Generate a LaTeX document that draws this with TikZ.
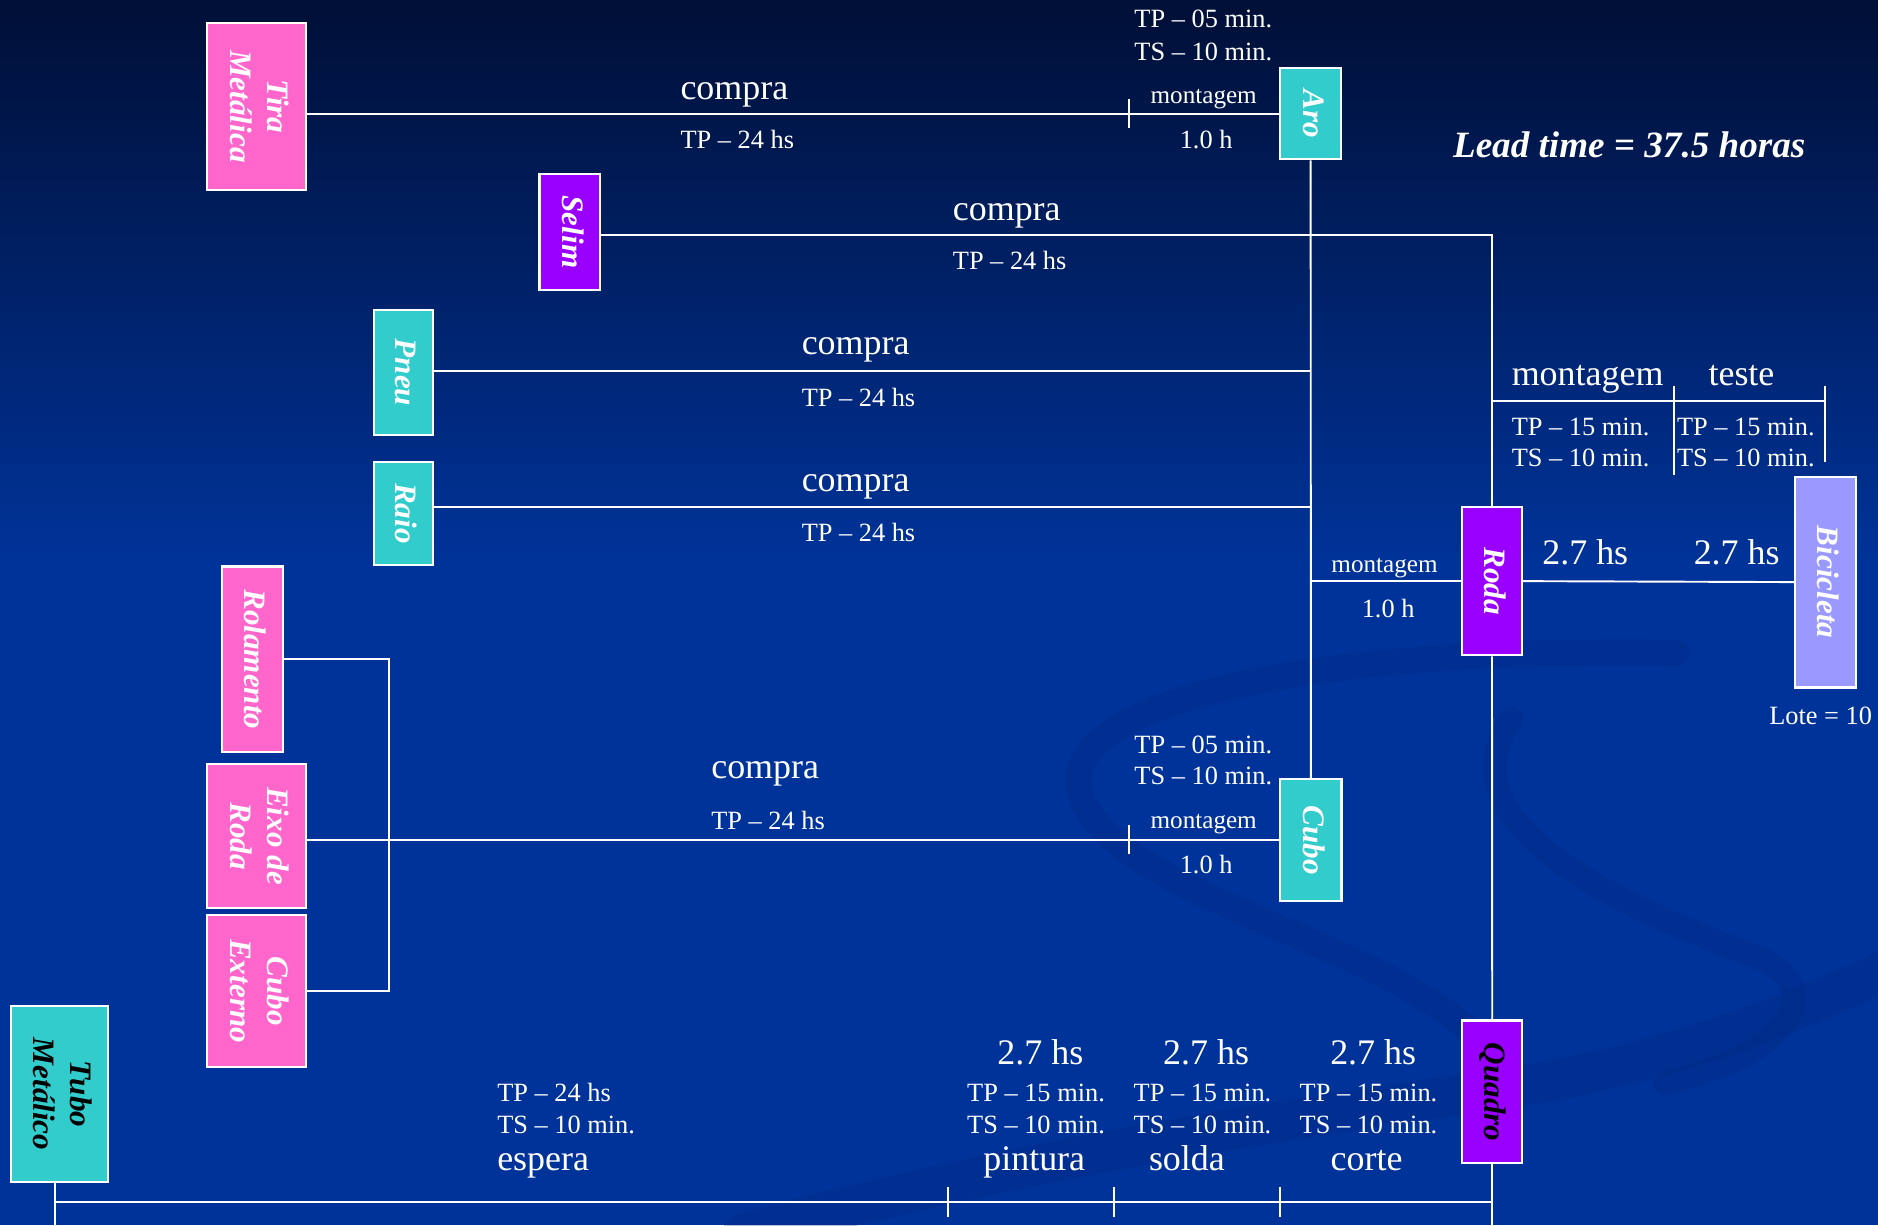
\documentclass[tikz,border=0pt]{standalone}
\usepackage{fontspec}
\setmainfont{Liberation Serif}
\usepackage{graphicx}
\definecolor{bgtop}{HTML}{000F36}
\definecolor{bgmid}{HTML}{00246E}
\definecolor{bgbot}{HTML}{003399}
\definecolor{swirlc}{HTML}{00287F}
\definecolor{pinkbox}{HTML}{FF66CC}
\definecolor{tealbox}{HTML}{33CCCC}
\definecolor{purplebox}{HTML}{9900FF}
\definecolor{lavbox}{HTML}{9999FF}
\newcommand{\vlab}[1]{\rotatebox{-90}{\begin{tabular}{@{}c@{}}#1\end{tabular}}}
\tikzset{
  box/.style={draw=white, line width=1.8pt, inner sep=0pt, text=white,
    font=\fontsize{26}{31}\selectfont\bfseries\itshape},
  conn/.style={draw=white, line width=1.6pt},
  small/.style={text=white, inner sep=0pt, anchor=base west, font=\fontsize{22}{27}\selectfont},
  smallc/.style={small, anchor=base},
  tiny/.style={text=white, inner sep=0pt, anchor=base, font=\fontsize{21}{25}\selectfont},
  big/.style={text=white, inner sep=0pt, anchor=base west, font=\fontsize{30}{36}\selectfont},
  bigc/.style={big, anchor=base},
  swirl/.style={draw=swirlc, line cap=round, opacity=0.28}
}
\begin{document}
\begin{tikzpicture}[x=1pt,y=-1pt]
\useasboundingbox (0,0) rectangle (1568,1023);
% background
\fill[bgbot] (0,0) rectangle (1568,1023);
\shade[top color=bgtop, middle color=bgmid, bottom color=bgbot] (0,0) rectangle (1568,470);
% decorative swirl
\draw[swirl, line width=22pt] (1400,545) .. controls (1100,540) and (880,585) .. (902,662) .. controls (925,745) and (1150,785) .. (1232,865);
\draw[swirl, line width=20pt] (1262,600) .. controls (1200,690) and (1360,760) .. (1470,800) .. controls (1530,830) and (1490,880) .. (1390,905);
\draw[swirl, line width=34pt] (620,1030) .. controls (900,955) and (1150,925) .. (1280,905) .. controls (1400,885) and (1500,845) .. (1575,810);

% boxes
\node[box, fill=pinkbox, minimum width=82.5pt, minimum height=139.6pt] (tira) at (214,88.8) {\vlab{Tira\\Metálica}};
\node[box, fill=tealbox, minimum width=50.7pt, minimum height=76.2pt] (aro) at (1094.3,95) {\vlab{Aro}};
\node[box, fill=purplebox, minimum width=50.6pt, minimum height=96.7pt] (selim) at (475.7,193.7) {\vlab{Selim}};
\node[box, fill=tealbox, minimum width=49.5pt, minimum height=104.4pt] (pneu) at (336.8,311) {\vlab{Pneu}};
\node[box, fill=tealbox, minimum width=49.5pt, minimum height=86.2pt] (raio) at (336.8,428.6) {\vlab{Raio}};
\node[box, fill=pinkbox, minimum width=51pt, minimum height=155pt] (rolamento) at (210.7,550.5) {\vlab{Rolamento}};
\node[box, fill=pinkbox, minimum width=82.6pt, minimum height=120pt] (eixo) at (214,698) {\vlab{Eixo de\\Roda}};
\node[box, fill=pinkbox, minimum width=82.6pt, minimum height=127pt] (cuboext) at (214,827.5) {\vlab{Cubo\\Externo}};
\node[box, fill=tealbox, text=black, minimum width=81.5pt, minimum height=147pt] (tubo) at (49.75,913.5) {\vlab{Tubo\\Metálico}};
\node[box, fill=tealbox, minimum width=51pt, minimum height=101.3pt] (cubo) at (1094.5,701.3) {\vlab{Cubo}};
\node[box, fill=purplebox, minimum width=50.3pt, minimum height=123.7pt] (roda) at (1245.7,485.2) {\vlab{Roda}};
\node[box, fill=purplebox, text=black, minimum width=50.3pt, minimum height=119.3pt] (quadro) at (1245.9,911.7) {\vlab{Quadro}};
\node[box, fill=lavbox, minimum width=50.7pt, minimum height=176pt] (bici) at (1524,486) {\vlab{Bicicleta}};

% helper coordinates
\coordinate (sj) at (1245.7,196.2);
\coordinate (pl) at (0,309.5);
\coordinate (rl) at (0,423);
\coordinate (brk) at (324.7,0);
\coordinate (tb) at (46.3,1023);
\coordinate (bl) at (46.3,1003.8);
\coordinate (qb) at (1245.9,1023);
\coordinate (mt) at (1245.7,334.5);
\coordinate (mtr) at (1524,334.5);

% connectors
\draw[conn] (aro.west -| tira.east) -- (aro.west);
\draw[conn] (selim.east |- sj) -- (sj) -- (roda.north);
\draw[conn] (pneu.east |- pl) -- (aro.south |- pl);
\draw[conn] (raio.east |- rl) -- (aro.south |- rl);
\draw[conn] (aro.south) -- (cubo.north);
\draw[conn] (roda.west -| aro.south) -- (roda.west);
\draw[conn] (roda.east) -- (bici.west);
\draw[conn] (roda.south) -- (quadro.north);
\draw[conn] (quadro.south) -- (qb);
\draw[conn] (cubo.west -| eixo.east) -- (cubo.west);
\draw[conn] (rolamento.east) -- (rolamento.east -| brk) -- (cuboext.east -| brk) -- (cuboext.east);
\draw[conn] (tubo.south -| tb) -- (tb);
\draw[conn] (bl) -- (bl -| quadro.south);
\draw[conn] (mt) -- (mtr);

% ticks
\coordinate (t1) at (943,94.9);
\coordinate (t2) at (943,700.8);
\draw[conn] (t1) ++(0,-12) -- ++(0,24);
\draw[conn] (t2) ++(0,-12) -- ++(0,24);
\coordinate (t3) at (1397.7,322);
\draw[conn] (t3) -- ++(0,75);
\draw[conn] (mtr) ++(0,-12.5) -- ++(0,64);
\foreach \tx [count=\i] in {791.5,930,1069} {
  \coordinate (bt\i) at (\tx,991);
  \draw[conn] (bt\i) -- ++(0,25);
}

% labels: Tira / Aro
\node[big] (c1) at (568,83) {compra};
\node[small] (p1) at (568,124.4) {TP – 24 hs};
\node[small] (a1) at (947,22.8) {TP – 05 min.};
\node[small] (a2) at (947,50.1) {TS – 10 min.};
\node[tiny] (a3) at (1005,86.3) {montagem};
\node[smallc] (a4) at (1007,123.8) {1.0 h};
% Selim
\node[big] (c2) at (795.4,183.7) {compra};
\node[small] (p2) at (795.4,224.9) {TP – 24 hs};
% Pneu
\node[big] (c3) at (669.2,295.6) {compra};
\node[small] (p3) at (669.2,339) {TP – 24 hs};
% Raio
\node[big] (c4) at (669.2,410.5) {compra};
\node[small] (p4) at (669.2,452.3) {TP – 24 hs};
% Eixo / Cubo
\node[big] (c5) at (593.7,649.9) {compra};
\node[small] (p5) at (593.7,692.4) {TP – 24 hs};
\node[small] (b1) at (947,629) {TP – 05 min.};
\node[small] (b2) at (947,655.4) {TS – 10 min.};
\node[tiny] (b3) at (1005,691.6) {montagem};
\node[smallc] (b4) at (1007,729.7) {1.0 h};
% Roda
\node[tiny] (r1) at (1156,478) {montagem};
\node[smallc] (r2) at (1159,515.4) {1.0 h};
\node[bigc] (r3) at (1323.6,471.7) {2.7 hs};
\node[bigc] (r4) at (1450,471.7) {2.7 hs};
\node[big] (m1) at (1262,321.5) {montagem};
\node[bigc] (m2) at (1454,321.5) {teste};
\node[small] (m3) at (1262,364) {TP – 15 min.};
\node[small] (m4) at (1262,389.6) {TS – 10 min.};
\node[small] (m5) at (1400,364) {TP – 15 min.};
\node[small] (m6) at (1400,389.6) {TS – 10 min.};
\node[small] (lote) at (1477,604.5) {Lote = 10};
\node[text=white, inner sep=0pt, anchor=base west, font=\fontsize{31}{37}\selectfont\bfseries\itshape] (lead) at (1213,131.4) {Lead time = 37.5 horas};
% bottom
\node[small] (e1) at (415,919.8) {TP – 24 hs};
\node[small] (e2) at (415,946.2) {TS – 10 min.};
\node[big] (e3) at (415,976.9) {espera};
\node[bigc] (q1) at (868.6,888.4) {2.7 hs};
\node[bigc] (q2) at (1007,888.4) {2.7 hs};
\node[bigc] (q3) at (1146.5,888.4) {2.7 hs};
\node[smallc] (q4) at (865,919.8) {TP – 15 min.};
\node[smallc] (q5) at (1004,919.8) {TP – 15 min.};
\node[smallc] (q6) at (1142.6,919.8) {TP – 15 min.};
\node[smallc] (q7) at (865,946.2) {TS – 10 min.};
\node[smallc] (q8) at (1004,946.2) {TS – 10 min.};
\node[smallc] (q9) at (1142.6,946.2) {TS – 10 min.};
\node[bigc] (q10) at (863.5,976.9) {pintura};
\node[bigc] (q11) at (991,976.9) {solda};
\node[bigc] (q12) at (1141,976.9) {corte};
\end{tikzpicture}
\end{document}
